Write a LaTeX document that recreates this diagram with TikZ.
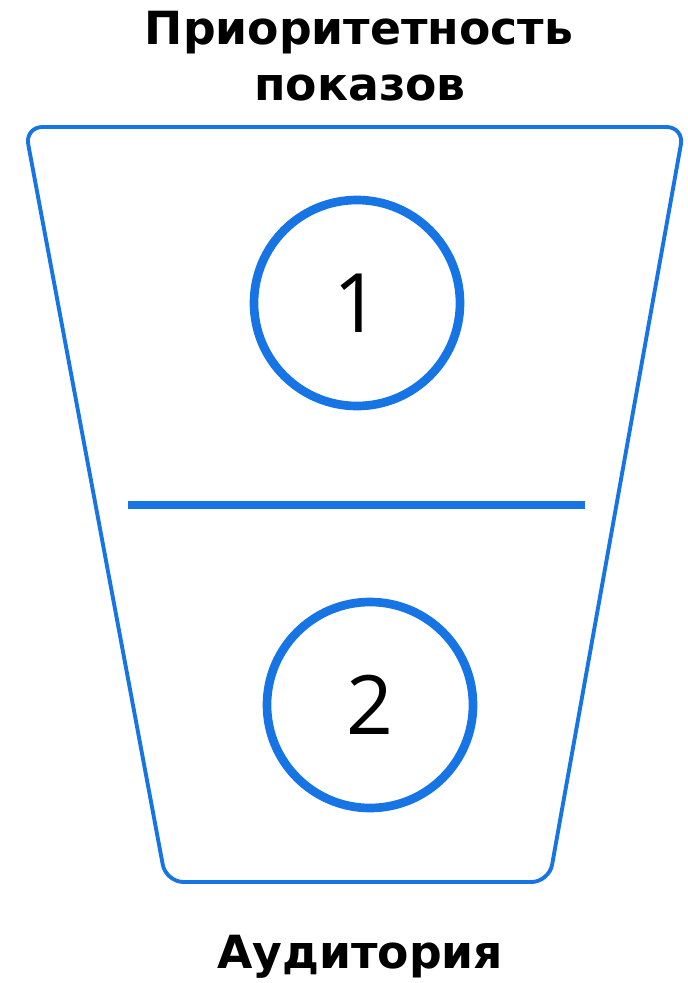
\documentclass[tikz,border=0pt]{standalone}
\usepackage{fontspec}
\setmainfont{DejaVu Sans}
\newfontfamily\digitfont{Open Sans}
\usepackage{tikz}
\usepackage{xcolor}
\definecolor{funnelblue}{RGB}{22, 116, 228}

\begin{document}
\begin{tikzpicture}[x=0.03cm, y=-0.03cm,
    title/.style={font=\fontsize{39}{44}\selectfont\bfseries, anchor=base, inner sep=0pt},
    stage/.style={circle, draw=funnelblue, line width=7.4pt, minimum size=6.18cm,
      inner sep=0pt, font=\digitfont\fontsize{70}{80}\selectfont}]
    \useasboundingbox (0,0) rectangle (687,983);
    \node[title] (prio) at (359, 45) {Приоритетность};
    \node[title] (pokaz) at (360, 100) {показов};
    \draw[funnelblue, line width=3.3pt, rounded corners=15pt]
      (25, 127) -- (684, 127) -- (549, 882) -- (166, 882) -- cycle;
    \node[stage] (first) at (357, 303) {1};
    \draw[funnelblue, line width=6.8pt] (128, 505) -- (585, 505);
    \node[stage] (second) at (370, 705) {2};
    \node[title] (aud) at (360, 968) {Аудитория};
  \end{tikzpicture}
\end{document}
